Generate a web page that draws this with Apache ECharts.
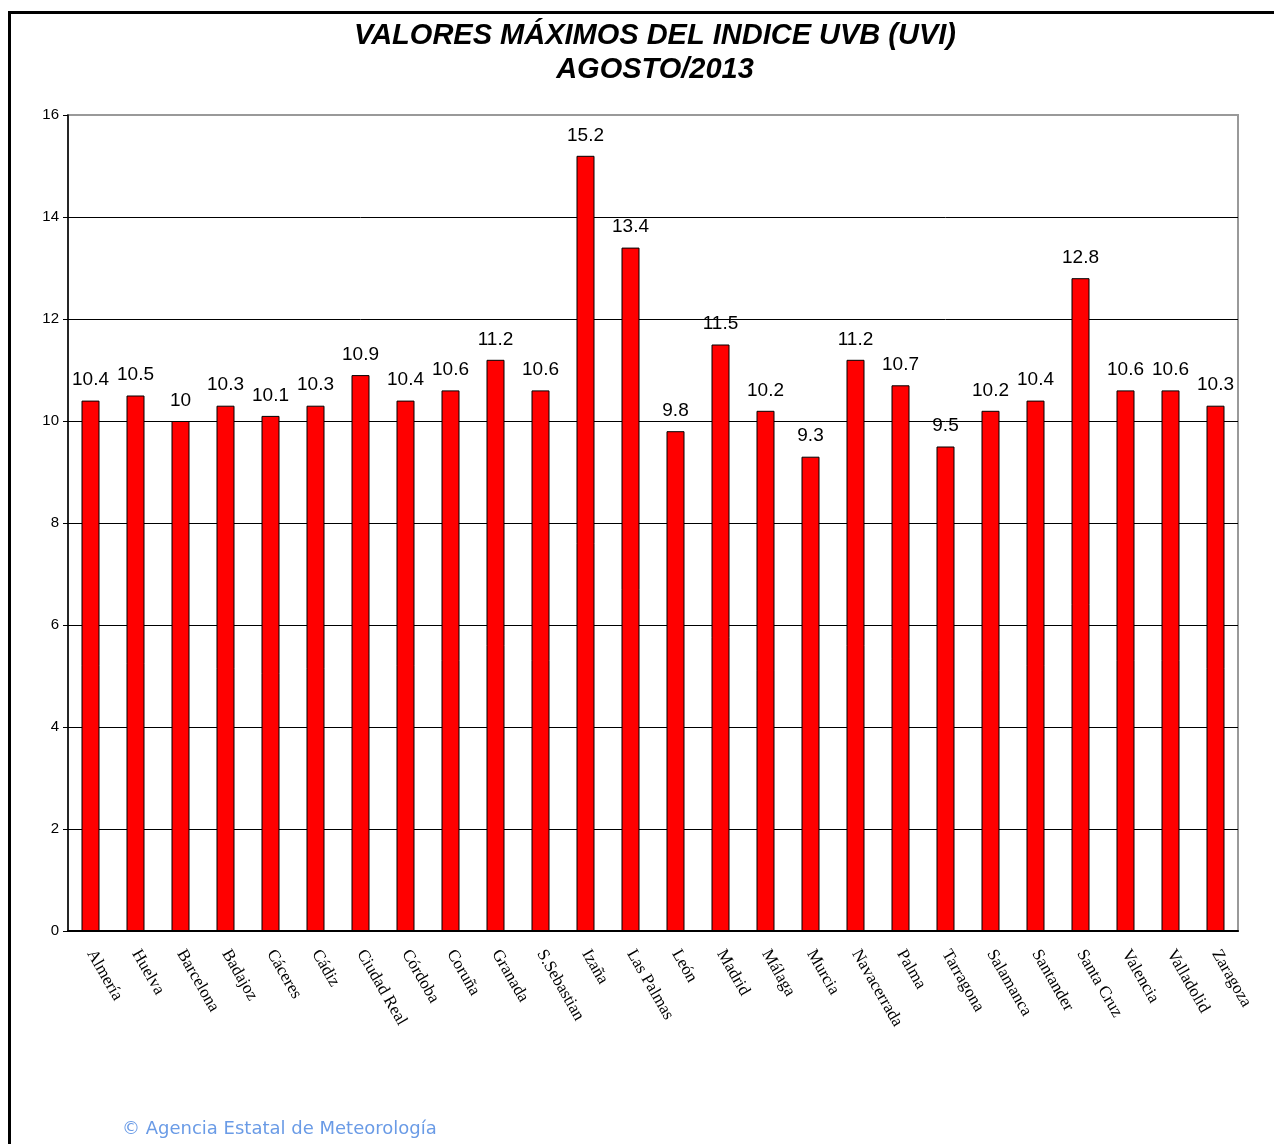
<!DOCTYPE html>
<html><head><meta charset="utf-8">
<script src="https://cdn.jsdelivr.net/npm/echarts@6/dist/echarts.min.js"></script>
<style>html,body{margin:0;padding:0;background:#fff;}#c{width:1274px;height:1144px;}</style>
</head><body><div id="c"></div>
<script>
const categories = ['Almería','Huelva','Barcelona','Badajoz','Cáceres','Cádiz','Ciudad Real','Córdoba','Coruña','Granada','S.Sebastian','Izaña','Las Palmas','León','Madrid','Málaga','Murcia','Navacerrada','Palma','Tarragona','Salamanca','Santander','Santa Cruz','Valencia','Valladolid','Zaragoza'];
const uviValues = [10.4,10.5,10,10.3,10.1,10.3,10.9,10.4,10.6,11.2,10.6,15.2,13.4,9.8,11.5,10.2,9.3,11.2,10.7,9.5,10.2,10.4,12.8,10.6,10.6,10.3];
const titleLines = ['VALORES MÁXIMOS DEL INDICE UVB (UVI)','AGOSTO/2013'];
const credit = '© Agencia Estatal de Meteorología';

const chart = echarts.init(document.getElementById('c'));
chart.setOption({
  animation:false,
  backgroundColor:'#fff',
  title:{text:titleLines.join('\n'),left:650,textAlign:'center',top:14,
    textStyle:{fontFamily:'Liberation Sans, Arial',fontSize:29,fontWeight:'bold',fontStyle:'italic',color:'#000',lineHeight:34}},
  grid:{left:68,right:36,top:115,bottom:213,show:true,borderColor:'#999',borderWidth:2,backgroundColor:'transparent'},
  xAxis:{type:'category',data:categories,
    axisLine:{lineStyle:{color:'#000',width:2}},
    axisTick:{length:6,lineStyle:{color:'#000',width:1.5}},
    axisLabel:{rotate:-60,interval:0,margin:20,fontFamily:'Liberation Serif, Times New Roman',fontSize:17,color:'#000'}},
  yAxis:{type:'value',min:0,max:16,interval:2,
    axisLine:{show:true,lineStyle:{color:'#000',width:1.5}},
    axisTick:{show:true,length:5,lineStyle:{color:'#000'}},
    axisLabel:{fontFamily:'Liberation Sans, Arial',fontSize:15,color:'#000',margin:9},
    splitLine:{lineStyle:{color:['#000','#000','#000','#000','#000','#000','#000','#000','#999'],width:1}}},
  series:[{type:'bar',data:uviValues,barWidth:'40%',
    itemStyle:{color:'#ff0000',borderColor:'#000',borderWidth:1},
    label:{show:true,position:'top',distance:11,fontFamily:'Liberation Sans, Arial',fontSize:19,color:'#000'}}],
  graphic:[
    {type:'rect',shape:{x:9.5,y:12.5,width:1400,height:1400},style:{fill:'none',stroke:'#000',lineWidth:3},silent:true},
    {type:'text',left:122,top:1120,style:{text:credit,fontFamily:'DejaVu Sans, Verdana',fontSize:18,fill:'#6a9be6'}}
  ]
});
</script></body></html>
